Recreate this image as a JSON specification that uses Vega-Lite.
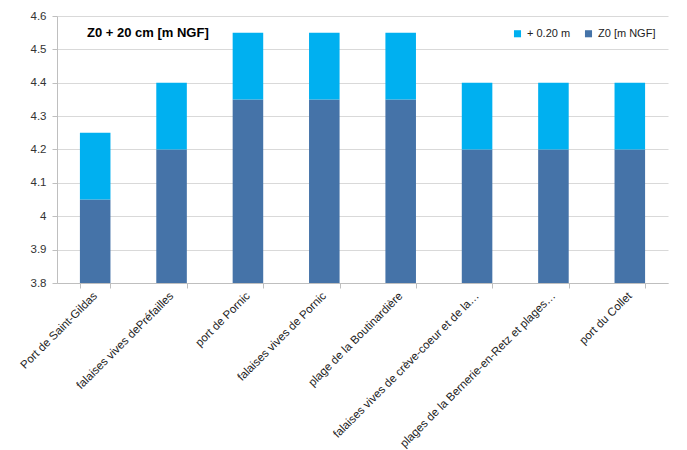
{
  "$schema": "https://vega.github.io/schema/vega-lite/v6.json",
  "autosize": {"type": "fit", "contains": "padding"},
  "width": 687,
  "height": 450,
  "padding": {"left": 22, "top": 10, "right": 19, "bottom": 0},
  "background": "white",
  "title": {
    "text": "Z0 + 20 cm [m NGF]",
    "anchor": "start",
    "frame": "group",
    "orient": "top",
    "offset": -30,
    "dx": 30,
    "fontSize": 13,
    "fontWeight": "bold",
    "font": "Liberation Sans",
    "color": "#000000"
  },
  "data": {
    "values": [
      {"site": "Port de Saint-Gildas", "series": "Z0 [m NGF]", "value": 4.05},
      {"site": "Port de Saint-Gildas", "series": "+ 0.20 m", "value": 0.2},
      {"site": "falaises vives dePréfailles", "series": "Z0 [m NGF]", "value": 4.2},
      {"site": "falaises vives dePréfailles", "series": "+ 0.20 m", "value": 0.2},
      {"site": "port de Pornic", "series": "Z0 [m NGF]", "value": 4.35},
      {"site": "port de Pornic", "series": "+ 0.20 m", "value": 0.2},
      {"site": "falaises vives  de Pornic", "series": "Z0 [m NGF]", "value": 4.35},
      {"site": "falaises vives  de Pornic", "series": "+ 0.20 m", "value": 0.2},
      {"site": "plage de la Boutinardière", "series": "Z0 [m NGF]", "value": 4.35},
      {"site": "plage de la Boutinardière", "series": "+ 0.20 m", "value": 0.2},
      {"site": "falaises vives de crève-coeur et de la…", "series": "Z0 [m NGF]", "value": 4.2},
      {"site": "falaises vives de crève-coeur et de la…", "series": "+ 0.20 m", "value": 0.2},
      {"site": "plages de la Bernerie-en-Retz et plages…", "series": "Z0 [m NGF]", "value": 4.2},
      {"site": "plages de la Bernerie-en-Retz et plages…", "series": "+ 0.20 m", "value": 0.2},
      {"site": "port du Collet", "series": "Z0 [m NGF]", "value": 4.2},
      {"site": "port du Collet", "series": "+ 0.20 m", "value": 0.2}
    ]
  },
  "mark": {"type": "bar", "clip": true},
  "encoding": {
    "x": {
      "field": "site",
      "type": "nominal",
      "sort": null,
      "title": null,
      "scale": {"paddingInner": 0.6, "paddingOuter": 0.3},
      "axis": {
        "labelAngle": -45,
        "labelAlign": "right",
        "labelBaseline": "middle",
        "labelFont": "Liberation Sans",
        "labelFontSize": 11.5,
        "labelColor": "#222222",
        "labelLimit": 300,
        "labelPadding": 6,
        "tickBand": "extent",
        "tickSize": 5,
        "tickColor": "#bfbfbf",
        "domainColor": "#bfbfbf",
        "grid": false
      }
    },
    "y": {
      "field": "value",
      "type": "quantitative",
      "stack": "zero",
      "title": null,
      "scale": {"domain": [3.8, 4.6], "zero": false, "nice": false},
      "axis": {
        "values": [3.8, 3.9, 4.0, 4.1, 4.2, 4.3, 4.4, 4.5, 4.6],
        "format": "~g",
        "labelFont": "Liberation Sans",
        "labelFontSize": 11.5,
        "labelColor": "#333333",
        "labelPadding": 6,
        "tickSize": 5,
        "tickColor": "#bfbfbf",
        "domainColor": "#bfbfbf",
        "gridColor": "#d9d9d9"
      }
    },
    "color": {
      "field": "series",
      "type": "nominal",
      "scale": {"domain": ["+ 0.20 m", "Z0 [m NGF]"], "range": ["#00b0f0", "#4573a8"]},
      "legend": {
        "title": null,
        "orient": "top-right",
        "direction": "horizontal",
        "offset": 12,
        "symbolType": "square",
        "symbolSize": 50,
        "symbolStrokeWidth": 0,
        "labelFont": "Liberation Sans",
        "labelFontSize": 11,
        "labelColor": "#222222",
        "columnPadding": 12
      }
    },
    "order": {"field": "series", "sort": "descending"}
  },
  "config": {
    "view": {"stroke": null}
  }
}
